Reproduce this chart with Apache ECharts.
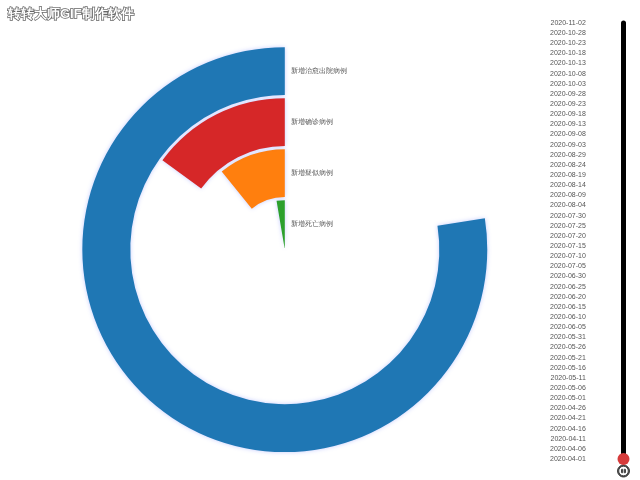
<!DOCTYPE html>
<html>
<head>
<meta charset="utf-8">
<script src="https://cdn.jsdelivr.net/npm/echarts@6/dist/echarts.min.js"></script>
<style>
html, body { margin: 0; padding: 0; background: #fff; }
#main { width: 640px; height: 480px; }
</style>
</head>
<body>
<div id="main"></div>
<script>
// 径向类目（由内到外）
var categories = ['新增死亡病例', '新增疑似病例', '新增确诊病例', '新增治愈出院病例'];
// 2020-04-01 当天的值（按角度读取，满圈 = 360）
var values = [9.6, 38.9, 53.9, 278.9];
var barColors = ['#2ca02c', '#ff7f0e', '#d62728', '#1f77b4'];
// 时间轴
var dates = [
	'2020-04-01', '2020-04-06', '2020-04-11', '2020-04-16', '2020-04-21', '2020-04-26',
	'2020-05-01', '2020-05-06', '2020-05-11', '2020-05-16', '2020-05-21', '2020-05-26', '2020-05-31',
	'2020-06-05', '2020-06-10', '2020-06-15', '2020-06-20', '2020-06-25', '2020-06-30',
	'2020-07-05', '2020-07-10', '2020-07-15', '2020-07-20', '2020-07-25', '2020-07-30',
	'2020-08-04', '2020-08-09', '2020-08-14', '2020-08-19', '2020-08-24', '2020-08-29',
	'2020-09-03', '2020-09-08', '2020-09-13', '2020-09-18', '2020-09-23', '2020-09-28',
	'2020-10-03', '2020-10-08', '2020-10-13', '2020-10-18', '2020-10-23', '2020-10-28',
	'2020-11-02'
];

var myChart = echarts.init(document.getElementById('main'));

var seriesData = [];
for (var i = 0; i < values.length; i++) {
	seriesData.push({
		value: values[i],
		itemStyle: { color: barColors[i] }
	});
}

var tlLabel = { color: '#555', fontSize: 7 };

var option = {
	animation: false,
	title: {
		text: '转转大师GIF制作软件',
		left: 3,
		top: 3,
		textStyle: {
			color: '#fff',
			fontSize: 13,
			fontWeight: 'bold',
			textBorderColor: '#666',
			textBorderWidth: 1.5
		}
	},
	timeline: {
		axisType: 'category',
		orient: 'vertical',
		autoPlay: true,
		playInterval: 100000000,
		right: -5,
		top: 8,
		bottom: -12,
		width: 80,
		symbol: 'none',
		data: dates,
		lineStyle: { color: '#000', width: 5 },
		label: tlLabel,
		emphasis: { label: tlLabel },
		progress: { label: tlLabel, lineStyle: { color: '#000' } },
		checkpointStyle: {
			color: '#d63b3b',
			borderWidth: 0,
			symbolSize: 12
		},
		controlStyle: {
			showPrevBtn: false,
			showNextBtn: false,
			itemSize: 12,
			itemGap: 6,
			color: '#444',
			borderColor: '#444',
			borderWidth: 1
		}
	},
	polar: {
		center: ['44.5%', '52%'],
		radius: '85%'
	},
	angleAxis: {
		type: 'value',
		min: 0,
		max: 360,
		startAngle: 90,
		clockwise: false,
		show: false
	},
	radiusAxis: {
		type: 'category',
		data: categories,
		z: 10,
		axisLine: { show: false },
		axisTick: { show: false },
		splitLine: { show: false },
		axisLabel: { color: '#555', fontSize: 6.5, margin: -6, align: 'left', interval: 0 }
	},
	series: [{
		type: 'bar',
		coordinateSystem: 'polar',
		barCategoryGap: '6%',
		data: seriesData,
		itemStyle: {
			shadowBlur: 4,
			shadowColor: 'rgba(90, 110, 255, 0.35)'
		}
	}]
};

myChart.setOption(option);
</script>
</body>
</html>
